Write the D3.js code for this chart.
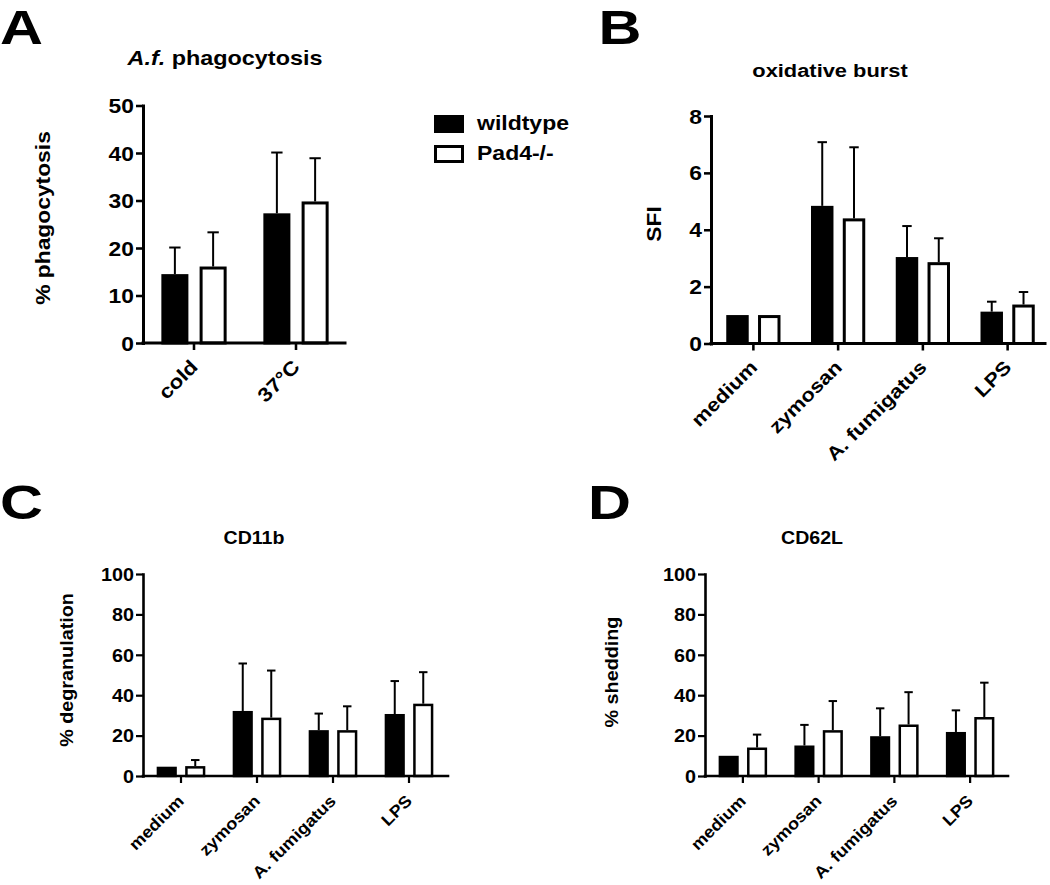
<!DOCTYPE html>
<html><head><meta charset="utf-8">
<script src="https://cdn.jsdelivr.net/npm/d3@7"></script>
<style>
body{margin:0;background:#fff}
svg{display:block}
text{font-family:"Liberation Sans",Arial,Helvetica,sans-serif;font-weight:bold;fill:#000}
</style>
</head><body>
<svg id="chart" width="1050" height="885"></svg>
<script>
// ---------------- data ----------------
const seriesNames = ["wildtype", "Pad4-/-"];

const phagoCategories = ["cold", "37°C"];
const phagoWildtype   = [14.5, 27.3];
const phagoWildtypeSD = [5.6, 12.8];
const phagoPad4       = [16.1, 29.8];
const phagoPad4SD     = [7.2, 9.1];
const phagoTicks      = [0, 10, 20, 30, 40, 50];

const stimCategories  = ["medium", "zymosan", "A. fumigatus", "LPS"];

const burstWildtype   = [1.0, 4.84, 3.04, 1.12];
const burstWildtypeSD = [0, 2.24, 1.09, 0.35];
const burstPad4       = [1.0, 4.40, 2.86, 1.37];
const burstPad4SD     = [0, 2.50, 0.84, 0.44];
const burstTicks      = [0, 2, 4, 6, 8];

const cd11bWildtype   = [4.6, 32.2, 22.7, 30.7];
const cd11bWildtypeSD = [0, 23.5, 8.2, 16.3];
const cd11bPad4       = [4.9, 28.9, 22.7, 35.8];
const cd11bPad4SD     = [3.0, 23.3, 11.8, 15.6];

const cd62lWildtype   = [10.0, 15.1, 19.7, 21.8];
const cd62lWildtypeSD = [0, 10.2, 13.8, 10.7];
const cd62lPad4       = [14.1, 22.7, 25.5, 29.2];
const cd62lPad4SD     = [6.4, 14.4, 16.0, 17.0];

const percentTicks    = [0, 20, 40, 60, 80, 100];

// ---------------- drawing ----------------
const svg = d3.select("#chart");

function txt(parent, x, y, s, o) {
  const t = parent.append("text")
    .attr("transform", `translate(${x},${y}) rotate(${o.rot || 0}) scale(${o.sx || 1},1)`)
    .attr("text-anchor", o.anchor || "middle")
    .style("font-size", o.size + "px");
  if (s != null) t.text(s);
  return t;
}

function drawPanel(c) {
  const g = svg.append("g");
  const y = d3.scaleLinear().domain([0, c.yMax]).range([c.y0, c.yTop]);
  const x = d3.scaleBand().domain(c.cats).range([c.xLeft, c.xRight]);
  const step = x.bandwidth();
  const xs = d3.scaleBand().domain(seriesNames)
    .range([-0.32 * step, 0.32 * step]).paddingInner(0.293);
  const bw = xs.bandwidth();
  const sw = c.stroke;

  // error bars (upper only)
  seriesNames.forEach((s, si) => {
    c.cats.forEach((cat, i) => {
      const m = c.means[si][i], sd = c.sds[si][i];
      if (!(sd > 0)) return;
      const cx = x(cat) + step / 2 + xs(s) + bw / 2;
      g.append("line").attr("x1", cx).attr("x2", cx)
        .attr("y1", y(m)).attr("y2", y(m + sd))
        .attr("stroke", "#000").attr("stroke-width", c.errW);
      g.append("line").attr("x1", cx - bw * 0.21).attr("x2", cx + bw * 0.21)
        .attr("y1", y(m + sd)).attr("y2", y(m + sd))
        .attr("stroke", "#000").attr("stroke-width", c.errW);
    });
  });

  // bars
  seriesNames.forEach((s, si) => {
    g.append("g").selectAll("rect").data(c.cats).join("rect")
      .attr("x", cat => x(cat) + step / 2 + xs(s) + sw / 2)
      .attr("width", bw - sw)
      .attr("y", (cat, i) => y(c.means[si][i]) + sw / 2)
      .attr("height", (cat, i) => Math.max(0, y(0) - y(c.means[si][i]) - sw / 2))
      .attr("fill", si === 0 ? "#000" : "#fff")
      .attr("stroke", "#000").attr("stroke-width", sw);
  });

  // y axis
  const ya = g.append("g").attr("transform", `translate(${c.xLeft},0)`)
    .call(d3.axisLeft(y).tickValues(c.ticks).tickSize(7).tickSizeOuter(0).tickPadding(2));
  ya.attr("font-size", null).attr("font-family", null);
  ya.select(".domain").attr("stroke-width", c.axisW).attr("stroke-linecap", "square");
  ya.selectAll(".tick line").attr("stroke-width", c.axisW * 0.85);
  ya.selectAll(".tick text").each(function () {
    const t = d3.select(this);
    const xx = +t.attr("x");
    t.attr("x", null).attr("dy", null)
      .attr("transform", `translate(${xx},${0.36 * c.font}) scale(${c.sx},1)`)
      .style("font-size", c.font + "px").attr("fill", "#000");
  });

  // x axis
  const xa = g.append("g").attr("transform", `translate(0,${c.y0})`)
    .call(d3.axisBottom(x).tickSize(7).tickSizeOuter(0));
  xa.select(".domain").remove();
  xa.selectAll(".tick text").remove();
  xa.selectAll(".tick line").attr("stroke-width", c.axisW * 0.85);
  g.append("line").attr("x1", c.xLeft).attr("x2", c.axisEnd)
    .attr("y1", c.y0).attr("y2", c.y0)
    .attr("stroke", "#000").attr("stroke-width", c.axisW).attr("stroke-linecap", "square");

  c.cats.forEach(cat => {
    txt(g, x(cat) + step / 2 + c.xlab[0], c.y0 + c.xlab[1], cat,
      { rot: -45, anchor: "end", sx: c.xlabSx, size: c.xlabFont });
  });

  // y label
  txt(g, c.ylabX, c.ylabY, c.ylabel, { rot: -90, sx: c.sx, size: c.font });

  // title
  const tt = txt(g, c.titleX, c.titleY, null, { sx: c.titleSx, size: c.titleSize });
  c.title.forEach(p => tt.append("tspan").style("font-style", p.italic ? "italic" : "normal").text(p.t));

  // panel letter
  txt(svg, c.letterX, c.letterY, c.letter, { anchor: "start", sx: 1.24, size: 48 });
}

drawPanel({
  cats: phagoCategories, means: [phagoWildtype, phagoPad4], sds: [phagoWildtypeSD, phagoPad4SD],
  ticks: phagoTicks, yMax: 50, y0: 343, yTop: 105.5, xLeft: 143, xRight: 347, axisEnd: 345,
  stroke: 3, errW: 2, axisW: 3, font: 19.5, sx: 1.17, xlabFont: 19.5, xlabSx: 1.15,
  titleSize: 19.5, titleSx: 1.2, xlab: [5, 25],
  title: [{ t: "A.f.", italic: true }, { t: " phagocytosis" }], titleX: 225, titleY: 65,
  ylabel: "% phagocytosis", ylabX: 50, ylabY: 218,
  letter: "A", letterX: 0, letterY: 44
});

drawPanel({
  cats: stimCategories, means: [burstWildtype, burstPad4], sds: [burstWildtypeSD, burstPad4SD],
  ticks: burstTicks, yMax: 8, y0: 343.5, yTop: 116, xLeft: 711, xRight: 1050, axisEnd: 1045,
  stroke: 3, errW: 2, axisW: 3, font: 19.5, sx: 1.17, xlabFont: 19, xlabSx: 1.15,
  titleSize: 19, titleSx: 1.15, xlab: [5, 25],
  title: [{ t: "oxidative burst" }], titleX: 830, titleY: 77,
  ylabel: "SFI", ylabX: 661, ylabY: 224,
  letter: "B", letterX: 598.5, letterY: 44
});

drawPanel({
  cats: stimCategories, means: [cd11bWildtype, cd11bPad4], sds: [cd11bWildtypeSD, cd11bPad4SD],
  ticks: percentTicks, yMax: 100, y0: 776, yTop: 574, xLeft: 143, xRight: 447, axisEnd: 448,
  stroke: 2.5, errW: 2, axisW: 2.6, font: 17.5, sx: 1.13, xlabFont: 16.5, xlabSx: 1.1,
  titleSize: 17.5, titleSx: 1.12, xlab: [4, 26],
  title: [{ t: "CD11b" }], titleX: 254, titleY: 544,
  ylabel: "% degranulation", ylabX: 73, ylabY: 670,
  letter: "C", letterX: 0, letterY: 519
});

drawPanel({
  cats: stimCategories, means: [cd62lWildtype, cd62lPad4], sds: [cd62lWildtypeSD, cd62lPad4SD],
  ticks: percentTicks, yMax: 100, y0: 776, yTop: 574, xLeft: 705, xRight: 1008, axisEnd: 1008,
  stroke: 2.5, errW: 2, axisW: 2.6, font: 17.5, sx: 1.13, xlabFont: 16.5, xlabSx: 1.1,
  titleSize: 17.5, titleSx: 1.12, xlab: [4, 26],
  title: [{ t: "CD62L" }], titleX: 812, titleY: 544,
  ylabel: "% shedding", ylabX: 618, ylabY: 672,
  letter: "D", letterX: 588, letterY: 519
});

// legend
const leg = svg.append("g");
const legendFills = ["#000", "#fff"];
const legendY = [115, 145];
const legendBase = [130, 159.5];
seriesNames.forEach((s, i) => {
  leg.append("rect").attr("x", 435.5).attr("y", legendY[i] + 1.5)
    .attr("width", 27).attr("height", 15)
    .attr("fill", legendFills[i]).attr("stroke", "#000").attr("stroke-width", 3);
  txt(leg, 477, legendBase[i], s, { anchor: "start", sx: 1.15, size: 20 });
});
</script>
</body></html>
